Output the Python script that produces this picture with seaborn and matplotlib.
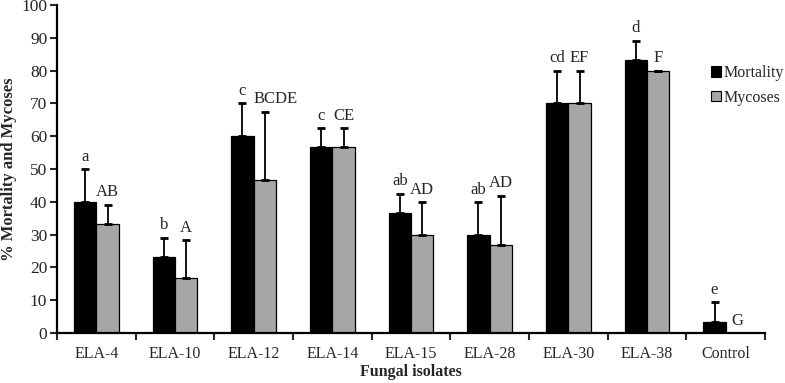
import numpy as np
import pandas as pd
import seaborn as sns
import matplotlib.pyplot as plt
from matplotlib.patches import Patch
from matplotlib.ticker import FixedLocator

# data
isolates = ["ELA-4", "ELA-10", "ELA-12", "ELA-14", "ELA-15", "ELA-28", "ELA-30", "ELA-38", "Control"]
mortality = [40.0, 23.3, 60.0, 56.7, 36.7, 30.0, 70.0, 83.3, 3.3]
mortality_err = [10.0, 5.8, 10.0, 5.8, 5.8, 10.0, 10.0, 5.8, 6.2]
mycoses = [33.3, 16.7, 46.7, 56.7, 30.0, 26.7, 70.0, 80.0, 0.0]
mycoses_err = [5.8, 11.6, 20.8, 5.8, 10.0, 15.2, 10.0, 0.0, 0.0]
mort_letters = ["a", "b", "c", "c", "ab", "ab", "cd", "d", "e"]
myc_letters = ["AB", "A", "BCDE", "CE", "AD", "AD", "EF", "F", "G"]

df = pd.DataFrame({
    "isolate": isolates * 2,
    "value": mortality + mycoses,
    "group": ["Mortality"] * len(isolates) + ["Mycoses"] * len(isolates),
})

sns.set_style("white")
plt.rcParams["font.family"] = ["Liberation Serif", "DejaVu Serif"]

fig = plt.figure(figsize=(7.85, 3.83), dpi=100)
ax = fig.add_axes([0.0726, 0.1305, 0.902, 0.8565])

colors = ["#000000", "#a6a6a6"]
sns.barplot(data=df, x="isolate", y="value", hue="group", palette=colors,
            width=0.57, edgecolor="#000000", linewidth=0.9, errorbar=None,
            ax=ax, legend=False, saturation=1)

# error bars (upper only) and significance letters
for cont, vals, errs, letters in zip(ax.containers, [mortality, mycoses],
                                     [mortality_err, mycoses_err],
                                     [mort_letters, myc_letters]):
    xs = [p.get_x() + p.get_width() / 2 for p in cont.patches]
    ax.errorbar(xs, vals, yerr=[np.zeros(len(vals)), errs], fmt="none",
                ecolor="#000000", elinewidth=1.3, capsize=3, capthick=2)
    for p, x, v, e, t in zip(cont.patches, xs, vals, errs, letters):
        if len(t) > 3:
            # long label sits to the right so it clears its neighbour
            ax.text(p.get_x(), v + e + 1.3, t, ha="left", va="bottom", fontsize=12)
        else:
            ax.text(x, v + e + 1.3, t, ha="center", va="bottom", fontsize=12)

ax.set_ylim(0, 100)
ax.set_yticks(range(0, 101, 10))
ax.set_xlim(-0.5, len(isolates) - 0.5)
ax.tick_params(axis="x", which="major", length=0, labelsize=11.5, pad=9)
ax.xaxis.set_minor_locator(FixedLocator(np.arange(-0.5, len(isolates), 1.0)))
ax.tick_params(axis="x", which="minor", direction="out", length=5, width=1.5, bottom=True)
ax.tick_params(axis="y", direction="out", length=5, width=1.5, labelsize=12.5, left=True, pad=2)

for s in ["top", "right"]:
    ax.spines[s].set_visible(False)
for s in ["left", "bottom"]:
    ax.spines[s].set_linewidth(1.6)
    ax.spines[s].set_color("#000000")

ax.set_xlabel("Fungal isolates", fontsize=11.5, fontweight="bold", labelpad=2)
ax.set_ylabel("% Mortality and Mycoses", fontsize=12, fontweight="bold", labelpad=3)

handles = [Patch(facecolor=c, edgecolor="#000000", linewidth=0.8) for c in colors]
fig.legend(handles, ["Mortality", "Mycoses"], loc="upper left",
           bbox_to_anchor=(0.906, 0.83), frameon=False, fontsize=11.5,
           borderpad=0, borderaxespad=0,
           handlelength=0.6, handleheight=0.6, handletextpad=0.2, labelspacing=0.55)

fig.savefig("out.png", dpi=100)
